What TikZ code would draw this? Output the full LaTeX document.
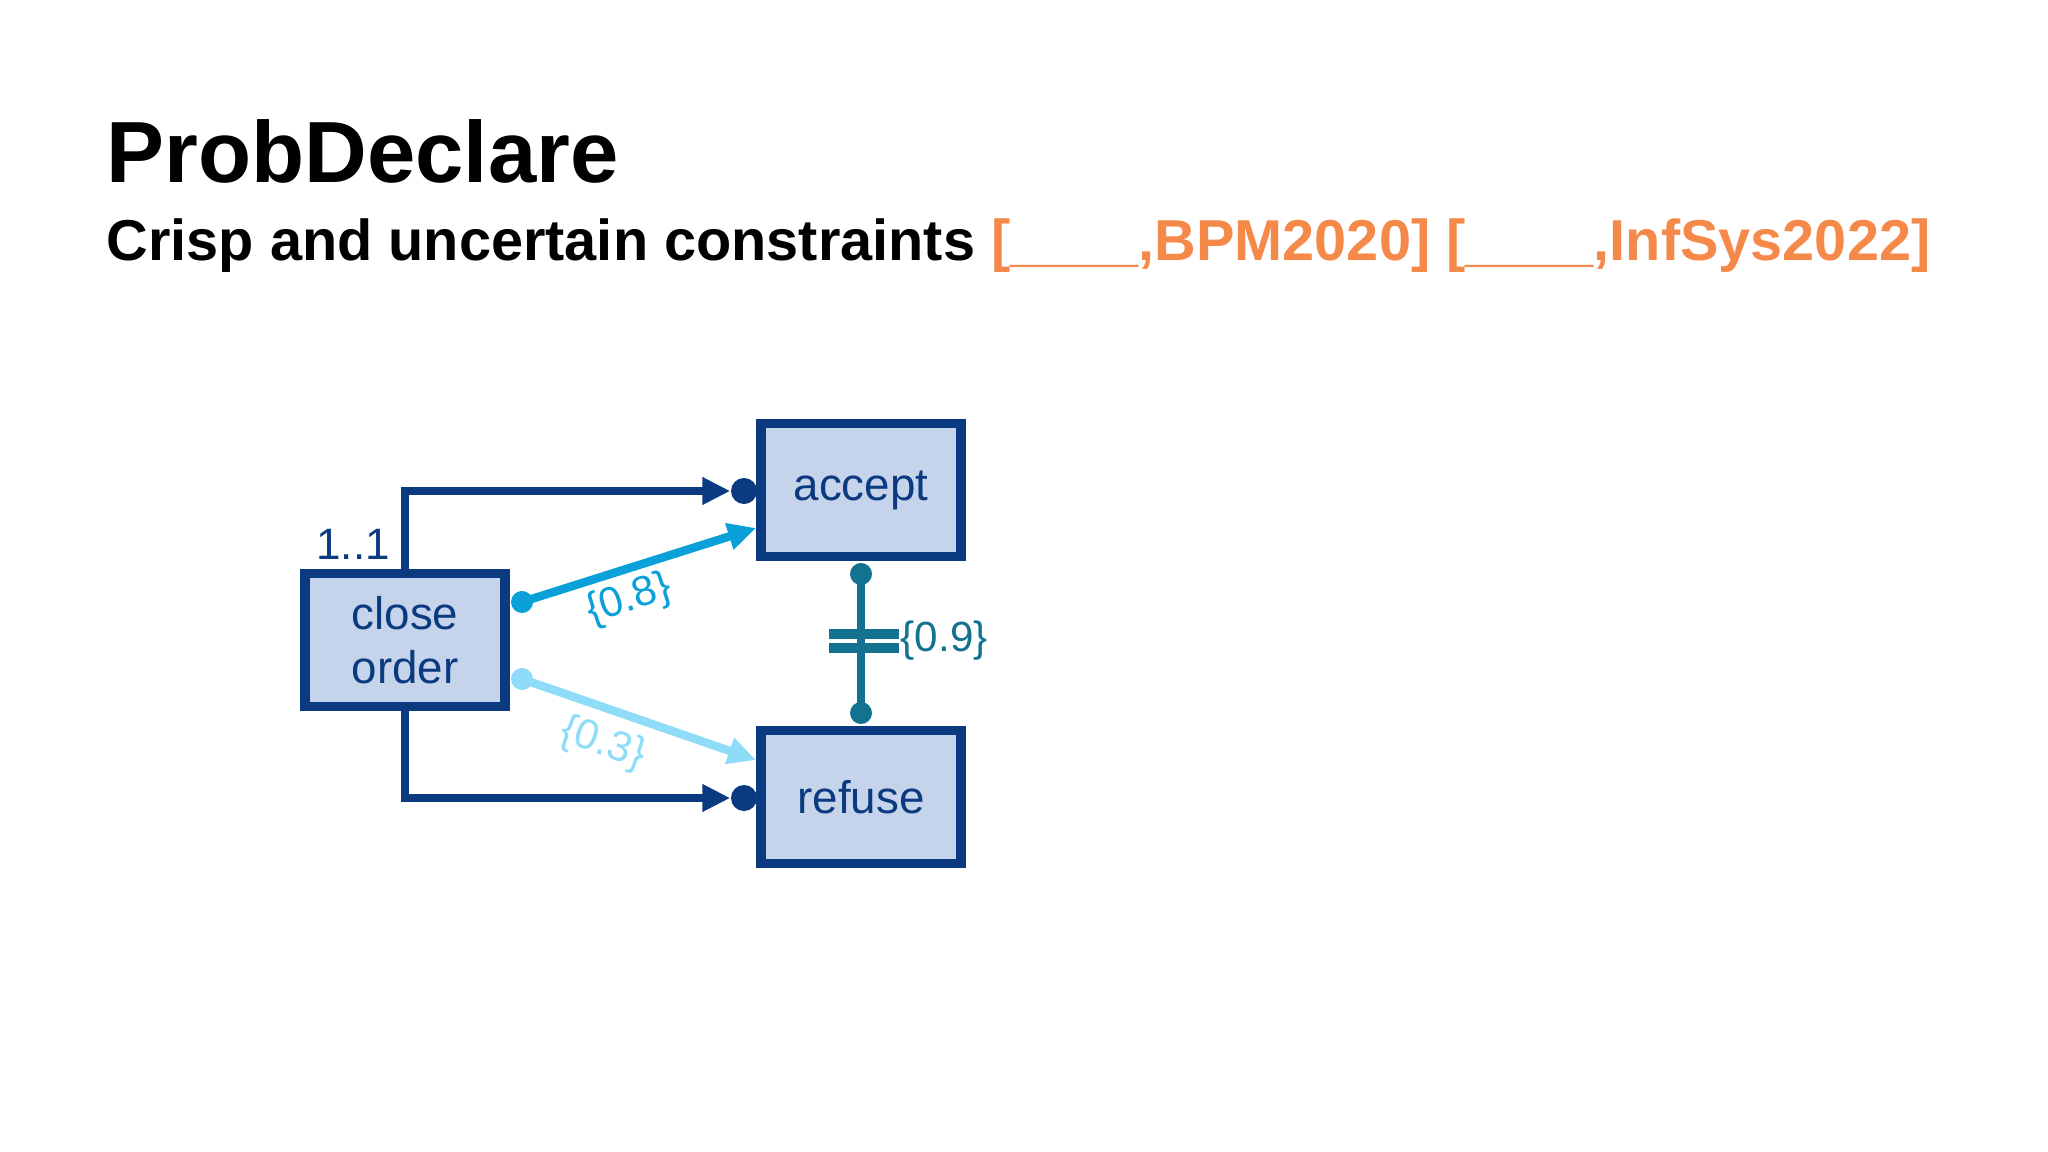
\documentclass[tikz,border=0pt]{standalone}
\usepackage{fontspec}
\setmainfont{Liberation Sans}
\usetikzlibrary{arrows.meta}
\definecolor{navy}{HTML}{0B3A80}
\definecolor{boxfill}{HTML}{C5D4EA}
\definecolor{cyanA}{HTML}{0AA0D8}
\definecolor{cyanB}{HTML}{8EDCF8}
\definecolor{tealC}{HTML}{13728F}
\definecolor{orng}{HTML}{F5894A}
\tikzset{
  act/.style={draw=navy,line width=2.6pt,fill=boxfill,text=navy,font=\fontsize{13}{15.5}\selectfont,align=center,inner sep=0pt,minimum width=2.0cm,minimum height=1.33cm},
  dotn/.style={circle,fill=#1,inner sep=0pt,minimum size=0.26cm},
  dotm/.style={circle,fill=#1,inner sep=0pt,minimum size=0.22cm},
  conn/.style={line width=2.4pt,draw=#1,-{Triangle[length=0.28cm,width=0.26cm]}},
  lbl/.style={font=\fontsize{12}{14}\selectfont,text=#1,inner sep=1pt}
}
\begin{document}
\begin{tikzpicture}[x=0.01cm,y=-0.01cm]
\useasboundingbox (0,0) rectangle (2048,1152);
\node[anchor=base west,inner sep=0,font=\fontsize{24.7}{30}\selectfont\bfseries] (title) at (106,183) {ProbDeclare};
\node[anchor=base west,inner sep=0,font=\fontsize{16.4}{20}\selectfont\bfseries] (sub) at (106,261) {Crisp and uncertain constraints \textcolor{orng}{[\_\_\_\_,BPM2020] [\_\_\_\_,InfSys2022]}};

\node[act] (co) at (405,640) {close\\order};
\node[act] (ac) at (861,490) {accept};
\node[act] (re) at (861,797) {refuse};

% dark response constraints
\node[dotn=navy] (da) at (744,491) {};
\node[dotn=navy] (dr) at (744,798) {};
\draw[conn=navy] (co.north) |- (da.west);
\draw[conn=navy] (co.south) |- (dr.west);
\node[lbl=navy,anchor=south east,font=\fontsize{12.5}{14}\selectfont] (card) at (394,564) {1..1};

% uncertain responses
\node[dotm=cyanA] (c8) at (522,602) {};
\coordinate (t8) at (756,528);
\draw[conn=cyanA] (c8.center) -- (t8);
\node[lbl=cyanA,rotate=18] (l8) at (629,600) {\{0.8\}};

\node[dotm=cyanB] (c3) at (522,679) {};
\coordinate (t3) at (756,760);
\draw[conn=cyanB] (c3.center) -- (t3);
\node[lbl=cyanB,rotate=-19] (l3) at (603,744) {\{0.3\}};

% not coexistence
\node[dotm=tealC] (n1) at (861,574) {};
\node[dotm=tealC] (n2) at (861,713) {};
\draw[tealC,line width=2.4pt] (n1.center) -- (n2.center);
\draw[tealC,line width=2.6pt] (829,634) -- (899,634) (829,648) -- (899,648);
\node[lbl=tealC,anchor=west,inner sep=0] (l9) at (900,641) {\{0.9\}};
\end{tikzpicture}
\end{document}
